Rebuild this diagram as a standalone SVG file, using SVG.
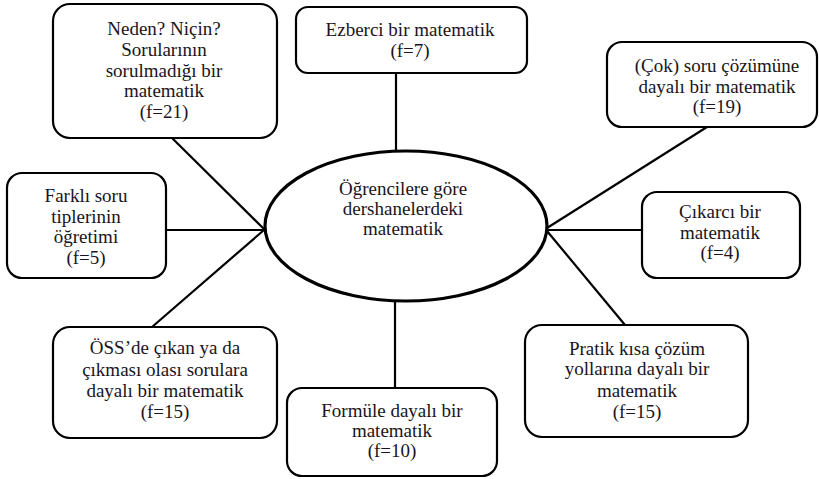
<svg xmlns="http://www.w3.org/2000/svg" width="819" height="479" viewBox="0 0 819 479">
<style>
.box{fill:#fff;stroke:#000;stroke-width:2.2}
.ell{fill:#fff;stroke:#000;stroke-width:3.2}
.con{stroke:#000;stroke-width:2.2;fill:none}
.l{font-family:"Liberation Serif",serif;font-size:19px;fill:#1a1420;text-anchor:middle}
</style>
<rect width="819" height="479" fill="#fff"/>
<g id="connectors">
<line class="con" x1="172" y1="138" x2="264" y2="229"/>
<line class="con" x1="166" y1="230" x2="264" y2="230"/>
<line class="con" x1="152" y1="327" x2="264" y2="230"/>
<line class="con" x1="396" y1="73" x2="396" y2="152"/>
<line class="con" x1="395" y1="300" x2="395" y2="388"/>
<line class="con" x1="707" y1="127" x2="547" y2="228"/>
<line class="con" x1="547" y1="230" x2="642" y2="230"/>
<line class="con" x1="625" y1="325" x2="547" y2="231"/>
</g>
<g id="center">
<ellipse class="ell" cx="406" cy="226" rx="141" ry="75"/>
<text class="l" font-family="Liberation Serif" x="403" y="195">Öğrencilere  göre</text>
<text class="l" font-family="Liberation Serif" x="403" y="215">dershanelerdeki</text>
<text class="l" font-family="Liberation Serif" x="403" y="235">matematik</text>
</g>
<g id="n-neden">
<rect class="box" x="53" y="4" width="224" height="134" rx="17"/>
<text class="l" font-family="Liberation Serif" x="164" y="35">Neden? Niçin?</text>
<text class="l" font-family="Liberation Serif" x="164" y="56">Sorularının</text>
<text class="l" font-family="Liberation Serif" x="164" y="77">sorulmadığı bir</text>
<text class="l" font-family="Liberation Serif" x="164" y="97">matematik</text>
<text class="l" font-family="Liberation Serif" x="164" y="118">(f=21)</text>
</g>
<g id="n-ezberci">
<rect class="box" x="296" y="7" width="231" height="66" rx="12"/>
<text class="l" font-family="Liberation Serif" x="410" y="36">Ezberci bir matematik</text>
<text class="l" font-family="Liberation Serif" x="410" y="57">(f=7)</text>
</g>
<g id="n-cok">
<rect class="box" x="607" y="42" width="210" height="85" rx="15"/>
<text class="l" font-family="Liberation Serif" x="717" y="72">(Çok) soru çözümüne</text>
<text class="l" font-family="Liberation Serif" x="717" y="93">dayalı bir matematik</text>
<text class="l" font-family="Liberation Serif" x="717" y="113">(f=19)</text>
</g>
<g id="n-farkli">
<rect class="box" x="7" y="173" width="159" height="105" rx="15"/>
<text class="l" font-family="Liberation Serif" x="86" y="202">Farklı soru</text>
<text class="l" font-family="Liberation Serif" x="86" y="223">tiplerinin</text>
<text class="l" font-family="Liberation Serif" x="86" y="243">öğretimi</text>
<text class="l" font-family="Liberation Serif" x="86" y="264">(f=5)</text>
</g>
<g id="n-cikarci">
<rect class="box" x="642" y="192" width="158" height="86" rx="15"/>
<text class="l" font-family="Liberation Serif" x="720" y="218">Çıkarcı bir</text>
<text class="l" font-family="Liberation Serif" x="720" y="239">matematik</text>
<text class="l" font-family="Liberation Serif" x="720" y="259">(f=4)</text>
</g>
<g id="n-oss">
<rect class="box" x="53" y="327" width="224" height="111" rx="17"/>
<text class="l" font-family="Liberation Serif" x="165" y="354">ÖSS’de çıkan ya da</text>
<text class="l" font-family="Liberation Serif" x="165" y="376">çıkması olası sorulara</text>
<text class="l" font-family="Liberation Serif" x="165" y="397">dayalı bir matematik</text>
<text class="l" font-family="Liberation Serif" x="165" y="418">(f=15)</text>
</g>
<g id="n-formule">
<rect class="box" x="287" y="388" width="210" height="88" rx="15"/>
<text class="l" font-family="Liberation Serif" x="392" y="417">Formüle dayalı bir</text>
<text class="l" font-family="Liberation Serif" x="392" y="437">matematik</text>
<text class="l" font-family="Liberation Serif" x="392" y="457">(f=10)</text>
</g>
<g id="n-pratik">
<rect class="box" x="525" y="325" width="223" height="112" rx="17"/>
<text class="l" font-family="Liberation Serif" x="637" y="355">Pratik kısa çözüm</text>
<text class="l" font-family="Liberation Serif" x="637" y="375">yollarına dayalı bir</text>
<text class="l" font-family="Liberation Serif" x="637" y="397">matematik</text>
<text class="l" font-family="Liberation Serif" x="637" y="418">(f=15)</text>
</g>
</svg>
